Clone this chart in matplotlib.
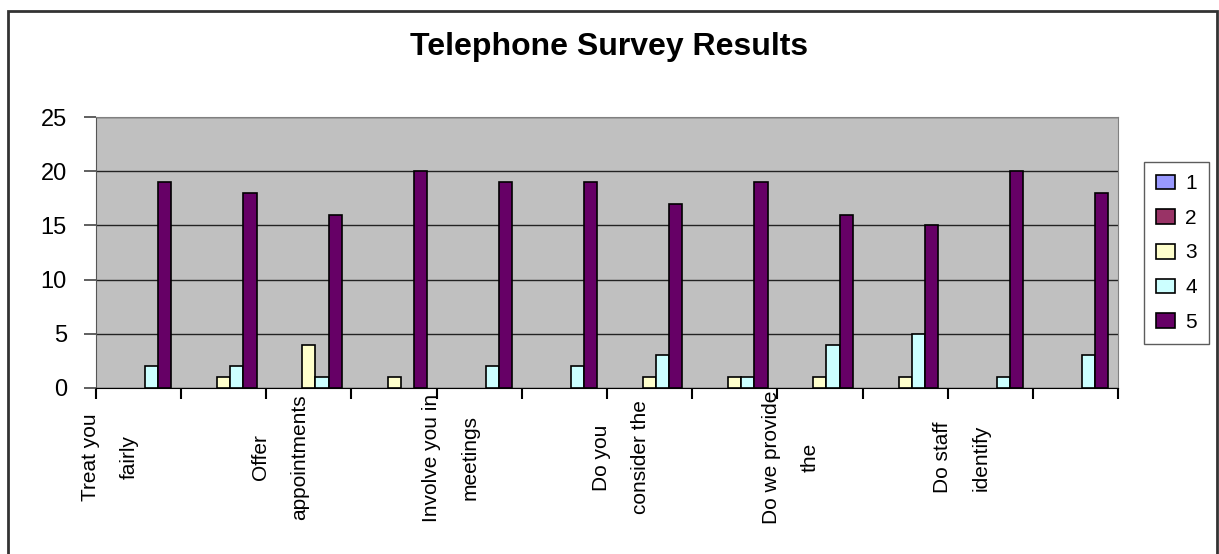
import numpy as np
import matplotlib.pyplot as plt
from matplotlib.patches import Rectangle

plt.rcParams['font.family'] = ['Liberation Sans', 'DejaVu Sans']

categories = ["Treat you\nfairly", "", "Offer\nappointments", "",
              "Involve you in\nmeetings", "", "Do you\nconsider the", "",
              "Do we provide\nthe", "", "Do staff\nidentify", ""]
series_names = ["1", "2", "3", "4", "5"]
s1 = [0, 0, 0, 0, 0, 0, 0, 0, 0, 0, 0, 0]
s2 = [0, 0, 0, 0, 0, 0, 0, 0, 0, 0, 0, 0]
s3 = [0, 1, 4, 1, 0, 0, 1, 1, 1, 1, 0, 0]
s4 = [2, 2, 1, 0, 2, 2, 3, 1, 4, 5, 1, 3]
s5 = [19, 18, 16, 20, 19, 19, 17, 19, 16, 15, 20, 18]
colors = ["#9999FF", "#993366", "#FFFFCC", "#CCFFFF", "#660066"]

fig = plt.figure(figsize=(12.19, 5.54), dpi=100)
ax = fig.add_axes([96/1219, 1-388/554, (1118-96)/1219, (388-117)/554])
ax.set_facecolor("#C0C0C0")

x = np.arange(len(categories))
w = 1/6.5
containers = []
for k, (vals, c, name) in enumerate(zip([s1, s2, s3, s4, s5], colors, series_names)):
    bars = ax.bar(x + (k-2)*w, vals, width=w, color=c, edgecolor="black",
                  linewidth=1.2, label=name, zorder=3)
    containers.append((bars, vals))

leg = ax.legend(loc='center', bbox_to_anchor=(1176.5/1219, 1-253/554),
                bbox_transform=fig.transFigure, fontsize=15, frameon=True,
                fancybox=False, edgecolor='#333333', handlelength=0.9,
                handleheight=0.7, labelspacing=0.75, handletextpad=0.5,
                borderpad=0.6)
leg.get_frame().set_linewidth(1)

# excel doesn't draw an outline for empty bars
for bars, vals in containers:
    for b, v in zip(bars, vals):
        if v == 0:
            b.set_linewidth(0)

ax.set_xlim(-0.5, len(categories)-0.5)
ax.set_ylim(0, 25)
ax.set_yticks(range(0, 26, 5))
ax.tick_params(axis='y', labelsize=17, length=9, width=1.2, color='#444444', pad=12)
ax.grid(axis='y', color='#222222', linewidth=1, zorder=1)
ax.set_axisbelow(True)

ax.set_xticks(x)
ax.set_xticklabels(categories, rotation=90, ha='right', va='center',
                   multialignment='center', fontsize=15, linespacing=2.3)
ax.tick_params(axis='x', which='major', length=0, pad=50)
ax.set_xticks(np.arange(-0.5, len(categories), 1), minor=True)
ax.tick_params(axis='x', which='minor', length=8, width=1.5, color='black')

for s in ['top', 'right']:
    ax.spines[s].set_color('#808080')
ax.spines['left'].set_color('#555555')
ax.spines['bottom'].set_color('black')

fig.text(0.5, 1-47/554, "Telephone Survey Results", ha='center', va='center',
         fontsize=23, fontweight='bold')

fig.patches.append(Rectangle((8/1219, -0.05), (1217-8)/1219, 1-11/554+0.05,
                             transform=fig.transFigure, fill=False,
                             edgecolor='#333333', linewidth=2))

fig.savefig("out.png", dpi=100)
